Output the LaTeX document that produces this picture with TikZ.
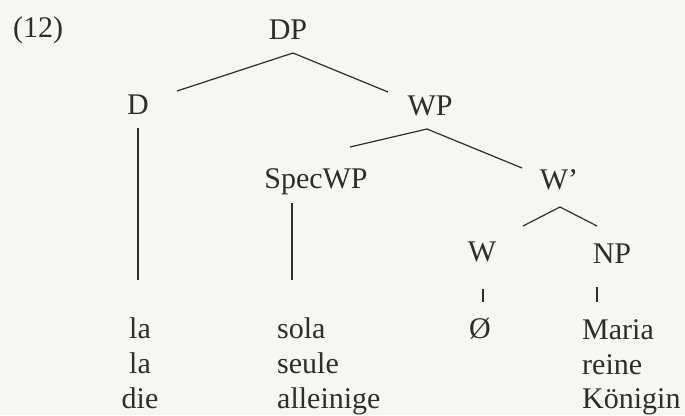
\documentclass[tikz,border=0pt]{standalone}
\usepackage{fontspec}
\setmainfont{Liberation Serif}
\usetikzlibrary{positioning}
\definecolor{paper}{RGB}{246,246,244}
\definecolor{ink}{RGB}{45,45,45}

\begin{document}
\begin{tikzpicture}[x=1pt,y=-1pt,
        lbl/.style={inner sep=0pt, anchor=base, text=ink, font=\fontsize{30}{36}\selectfont},
        word/.style={lbl, anchor=base west},
        branch/.style={draw=ink, line width=1.2pt}]

            \fill[paper] (0,0) rectangle (685,415);
            \useasboundingbox (0,0) rectangle (685,415);

            % Tree labels
            \node[word] (ex) at (13,37) {(12)};
            \node[lbl] (DP) at (288,39) {DP};
            \node[lbl] (D) at (138,114) {D};
            \node[lbl] (WP) at (430,115) {WP};
            \node[lbl] (SpecWP) at (316,188) {SpecWP};
            \node[lbl] (Wbar) at (559,189) {W'};
            \node[lbl] (W) at (482,261) {W};
            \node[lbl] (NP) at (612,263) {NP};

            % Branch ends
            \coordinate (DPtop) at (293,53);
            \coordinate (Dup) at (177,91);
            \coordinate (WPup) at (388,92);
            \coordinate (WPtop) at (427,129);
            \coordinate (SpecWPup) at (350,147);
            \coordinate (Wbarup) at (522,168);
            \coordinate (Wbartop) at (560,207);
            \coordinate (Wup) at (523,226);
            \coordinate (NPup) at (597,226);
            \coordinate (Dtop) at (138,128);
            \coordinate (Dbot) at (138,280);
            \coordinate (Spectop) at (292,203);
            \coordinate (Specbot) at (292,280);
            \coordinate (Wtop) at (483,289);
            \coordinate (Wbot) at (483,302);
            \coordinate (NPtop) at (597,287);
            \coordinate (NPbot) at (597,302);

            % Draw the branches
            \draw[branch] (Dup) -- (DPtop) -- (WPup);
            \draw[branch] (SpecWPup) -- (WPtop) -- (Wbarup);
            \draw[branch] (Wup) -- (Wbartop) -- (NPup);
            \draw[branch] (Dtop) -- (Dbot);
            \draw[branch] (Spectop) -- (Specbot);
            \draw[branch] (Wtop) -- (Wbot);
            \draw[branch] (NPtop) -- (NPbot);

            % Terminal words
            \node[lbl] (la) at (140,338) {la};
            \node[lbl] (lafr) at (140,373) {la};
            \node[lbl] (die) at (140,408) {die};
            \node[word] (sola) at (277,338) {sola};
            \node[word] (seule) at (277,373) {seule};
            \node[word] (alleinige) at (277,408) {alleinige};
            \node[lbl] (empty) at (480,338) {Ø};
            \node[word] (Maria) at (582,339) {Maria};
            \node[word] (reine) at (582,374) {reine};
            \node[word] (Koenigin) at (582,408) {Königin};

        \end{tikzpicture}
\end{document}
